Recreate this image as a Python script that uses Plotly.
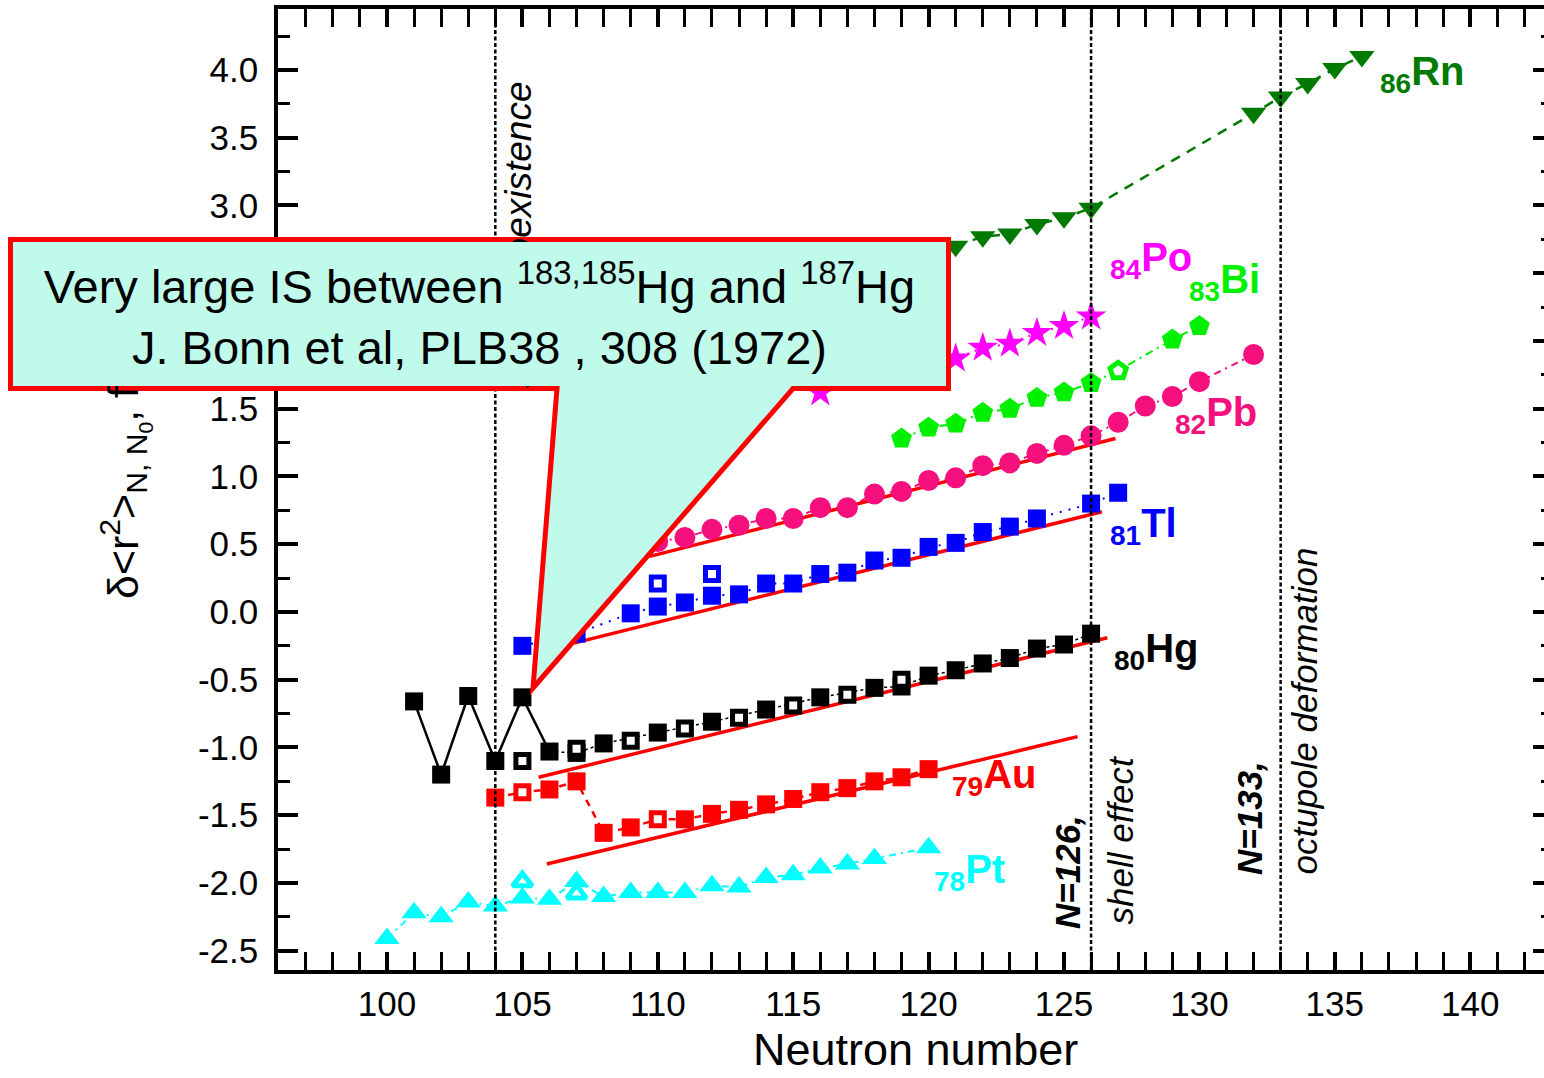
import plotly.graph_objects as go

# ---------------- data: delta<r^2> (fm^2) versus neutron number ----------------
# 80Hg
hg_n = [101, 102, 103, 104, 105, 106, 107, 108, 110, 112, 114, 116, 118, 119, 120, 121, 122, 123, 124, 125, 126]
hg_r2 = [-0.66, -1.20, -0.62, -1.10, -0.63, -1.03, -1.04, -0.97, -0.89, -0.81, -0.72, -0.63, -0.56, -0.55,
         -0.47, -0.43, -0.38, -0.34, -0.27, -0.24, -0.16]
hg_open_n = [105, 107, 109, 111, 113, 115, 117, 119]
hg_open_r2 = [-1.10, -1.01, -0.95, -0.86, -0.78, -0.69, -0.61, -0.50]

# 79Au
au_n = [104, 106, 107, 108, 109, 111, 112, 113, 114, 115, 116, 117, 118, 119, 120]
au_r2 = [-1.37, -1.31, -1.25, -1.63, -1.59, -1.53, -1.49, -1.46, -1.42, -1.38, -1.33, -1.30, -1.25, -1.22, -1.16]
au_open_n = [105, 110]
au_open_r2 = [-1.33, -1.53]

# 78Pt
pt_n = [100, 101, 102, 103, 104, 105, 106, 107, 108, 109, 110, 111, 112, 113, 114, 115, 116, 117, 118, 120]
pt_r2 = [-2.41, -2.22, -2.25, -2.14, -2.17, -2.11, -2.12, -1.99, -2.10, -2.07, -2.07, -2.07, -2.02, -2.03,
         -1.96, -1.94, -1.89, -1.86, -1.82, -1.74]
pt_open_n = [105, 107]
pt_open_r2 = [-1.99, -2.08]

# 81Tl
tl_n = [105, 107, 109, 110, 111, 112, 113, 114, 115, 116, 117, 118, 119, 120, 121, 122, 123, 124, 126, 127]
tl_r2 = [-0.25, -0.16, -0.01, 0.04, 0.07, 0.12, 0.13, 0.21, 0.21, 0.28, 0.29, 0.38, 0.40, 0.48, 0.51,
         0.59, 0.63, 0.69, 0.80, 0.88]
tl_open_n = [110, 112]
tl_open_r2 = [0.21, 0.28]

# 82Pb
pb_n = [110, 111, 112, 113, 114, 115, 116, 117, 118, 119, 120, 121, 122, 123, 124, 125, 126, 127, 128, 129, 130, 132]
pb_r2 = [0.52, 0.55, 0.61, 0.64, 0.69, 0.69, 0.77, 0.77, 0.87, 0.89, 0.97, 0.99, 1.08, 1.10, 1.17, 1.23,
         1.30, 1.40, 1.52, 1.59, 1.70, 1.90]

# 83Bi
bi_n = [119, 120, 121, 122, 123, 124, 125, 126, 129, 130]
bi_r2 = [1.28, 1.36, 1.39, 1.47, 1.50, 1.58, 1.62, 1.69, 2.01, 2.11]
bi_open_n = [127]
bi_open_r2 = [1.78]

# 84Po
po_n = [116, 121, 122, 123, 124, 125, 126]
po_r2 = [1.62, 1.87, 1.95, 1.98, 2.06, 2.11, 2.18]

# 86Rn
rn_n = [121, 122, 123, 124, 125, 126, 132, 133, 134, 135, 136]
rn_r2 = [2.70, 2.77, 2.79, 2.86, 2.91, 2.98, 3.68, 3.80, 3.90, 4.01, 4.10]

# straight-line systematics (start/end points)
trend_pb = ([109.7, 126.9], [0.41, 1.28])
trend_tl = ([106.9, 126.4], [-0.23, 0.74])
trend_hg = ([105.6, 126.6], [-1.22, -0.19])
trend_au = ([105.9, 125.5], [-1.86, -0.92])

# neutron numbers marked with vertical lines
n_marks = [104, 126, 133]

# axis ticks (the 2.0 / 2.5 labels sit under the note box, so the left axis skips them)
x_ticks = [100, 105, 110, 115, 120, 125, 130, 135, 140]
y_ticks = [-2.5, -2.0, -1.5, -1.0, -0.5, 0.0, 0.5, 1.0, 1.5, 3.0, 3.5, 4.0]
y_ticktext = ["-2.5", "-2.0", "-1.5", "-1.0", "-0.5", "0.0", "0.5", "1.0", "1.5", "3.0", "3.5", "4.0"]
y_ticks_right = [-2.5, -2.0, -1.5, -1.0, -0.5, 0.0, 0.5, 1.0, 1.5, 2.0, 2.5, 3.0, 3.5, 4.0]

# colours
C_HG, C_AU, C_PT, C_TL = "#000000", "#FF0000", "#00FFFF", "#0000FF"
C_PB, C_BI, C_PO, C_RN = "#F5107E", "#00F000", "#FF00FF", "#007A00"
C_NOTE = "#BFFAEB"

FONT = "Liberation Sans, Arial, sans-serif"

# ---------------- page geometry ----------------
W, H = 1544, 1078
ML, MR, MT, MB = 278, 0, 9, 108
PW, PH = W - ML - MR, H - MT - MB


def px_x(px):
    return (px - ML) / PW


def px_y(py):
    return (H - MB - py) / PH


fig = go.Figure()


def merged(xa, ya, xb, yb):
    pts = sorted(zip(list(xa) + list(xb), list(ya) + list(yb)))
    return [p[0] for p in pts], [p[1] for p in pts]


def add_line(xs, ys, color, dash, width=2.0):
    fig.add_trace(go.Scatter(x=xs, y=ys, mode="lines", hoverinfo="skip",
                             line=dict(color=color, dash=dash, width=width)))


def add_markers(xs, ys, color, symbol, size, hollow=False):
    if hollow:
        mk = dict(symbol=symbol, size=size - 5, color="white", line=dict(color=color, width=5))
    else:
        mk = dict(symbol=symbol, size=size, color=color, line=dict(width=0))
    fig.add_trace(go.Scatter(x=xs, y=ys, mode="markers", marker=mk, hoverinfo="skip"))


# connecting lines
add_line(hg_n[:6], hg_r2[:6], C_HG, "solid", 2.5)
add_line(hg_n[5:], hg_r2[5:], C_HG, "dot", 1.5)
x, y = merged(au_n, au_r2, au_open_n, au_open_r2)
add_line(x, y, C_AU, "7px,6px", 2.5)
add_line(pt_n, pt_r2, C_PT, "7px,5px,2px,5px", 2.0)
add_line(tl_n, tl_r2, C_TL, "2px,7px", 2.0)
add_line(pb_n, pb_r2, C_PB, "7px,5px,2px,5px", 2.0)
x, y = merged(bi_n, bi_r2, bi_open_n, bi_open_r2)
add_line(x, y, C_BI, "8px,5px,2px,5px", 2.0)
add_line(po_n, po_r2, C_PO, "2px,6px", 2.0)
add_line(rn_n, rn_r2, C_RN, "10px,8px", 2.5)

# systematics
for tx, ty in (trend_pb, trend_tl, trend_hg, trend_au):
    add_line(tx, ty, "#FF0000", "solid", 3.5)

# symbols
add_markers(pt_n, pt_r2, C_PT, "triangle-up", 22)
add_markers(pt_open_n, pt_open_r2, C_PT, "triangle-up", 22, hollow=True)
add_markers(au_n, au_r2, C_AU, "square", 18)
add_markers(au_open_n, au_open_r2, C_AU, "square", 18, hollow=True)
add_markers(hg_n, hg_r2, C_HG, "square", 18)
add_markers(hg_open_n, hg_open_r2, C_HG, "square", 18, hollow=True)
add_markers(tl_n, tl_r2, C_TL, "square", 18)
add_markers(tl_open_n, tl_open_r2, C_TL, "square", 18, hollow=True)
add_markers(pb_n, pb_r2, C_PB, "circle", 21)
add_markers(bi_n, bi_r2, C_BI, "pentagon", 22)
add_markers(bi_open_n, bi_open_r2, C_BI, "pentagon", 22, hollow=True)
add_markers(po_n, po_r2, C_PO, "star", 23)
add_markers(rn_n, rn_r2, C_RN, "triangle-down", 22)

# helper trace so the right-hand tick axis is drawn
fig.add_trace(go.Scatter(x=[None], y=[None], yaxis="y2", mode="markers", hoverinfo="skip"))

# vertical guide lines
for n in n_marks:
    fig.add_shape(type="line", xref="x", yref="paper", x0=n, x1=n, y0=0, y1=1,
                  line=dict(color="black", width=2.5, dash="4px,2.5px"), layer="above")

# callout outline (box with pointer)
outline = [(10.5, 239.5), (948.5, 239.5), (948.5, 388.5), (793, 388.5), (533, 688),
           (557, 388.5), (10.5, 388.5)]
path = "M " + " L ".join(f"{px_x(a):.5f},{px_y(b):.5f}" for a, b in outline) + " Z"
fig.add_shape(type="path", xref="paper", yref="paper", path=path, fillcolor=C_NOTE,
              line=dict(color="#FF0000", width=5), layer="above")

ann = []


def text(px, py, s, size, color="black", angle=0, xa="center", ya="middle", bold=False, italic=False):
    if italic:
        s = f"<i>{s}</i>"
    if bold:
        s = f"<b>{s}</b>"
    ann.append(dict(x=px_x(px), y=px_y(py), xref="paper", yref="paper", text=s, showarrow=False,
                    textangle=angle, xanchor=xa, yanchor=ya,
                    font=dict(family=FONT, size=size, color=color)))


# axis titles
text(915, 1077, "Neutron number", 45, ya="bottom")
text(125, 601, "δ&lt;r<sup>2</sup>&gt;<sub>N, N<sub>0</sub></sub>, fm<sup>2</sup>", 43, angle=-90, ya="bottom")

# vertical-line notes
text(518, 80, "shape coexistence", 37, angle=-90, ya="top", italic=True)
text(1067, 931, "N=126,", 35, angle=-90, ya="bottom", bold=True, italic=True)
text(1120, 927, "shell effect", 35, angle=-90, ya="bottom", italic=True)
text(1249, 877, "N=133,", 35, angle=-90, ya="bottom", bold=True, italic=True)
text(1304, 877, "octupole deformation", 35, angle=-90, ya="bottom", italic=True)

# element labels
for px, py, lab, col in [(1378, 74, "<sub>86</sub>Rn", C_RN), (1108, 260, "<sub>84</sub>Po", C_PO),
                         (1187, 282, "<sub>83</sub>Bi", C_BI), (1173, 415, "<sub>82</sub>Pb", C_PB),
                         (1108, 526, "<sub>81</sub>Tl", C_TL), (1112, 651, "<sub>80</sub>Hg", C_HG),
                         (950, 777, "<sub>79</sub>Au", C_AU), (932, 872, "<sub>78</sub>Pt", C_PT)]:
    text(px, py, lab, 40, color=col, xa="left", bold=True)

# callout text (its background also hides what lies under the box)
ann.append(dict(x=px_x(479.5), y=px_y(314), xref="paper", yref="paper", showarrow=False,
                xanchor="center", yanchor="middle", width=933, height=144, align="center",
                bgcolor=C_NOTE, borderwidth=0, borderpad=0,
                text="Very large IS between <sup>183,185</sup>Hg and <sup>187</sup>Hg<br>"
                     "J. Bonn et al, PLB38 , 308 (1972)",
                font=dict(family=FONT, size=47, color="black")))

fig.update_layout(
    width=W, height=H, margin=dict(l=ML, r=MR, t=MT, b=MB, pad=0),
    paper_bgcolor="white", plot_bgcolor="white", showlegend=False, hovermode=False,
    font=dict(family=FONT, color="black"),
    annotations=ann,
    xaxis=dict(range=[95.975, 95.975 + PW / 27.08], tickvals=x_ticks, ticks="inside", ticklen=18,
               tickwidth=3.5, tickcolor="black", showline=True, linewidth=3.5, linecolor="black",
               mirror="allticks", showgrid=False, zeroline=False,
               tickfont=dict(size=35, family=FONT), ticklabelstandoff=0,
               minor=dict(dtick=1, tick0=100, ticks="inside", ticklen=10, tickwidth=3, tickcolor="black")),
    yaxis=dict(range=[4.45 - PH / 135.5, 4.45], tickvals=y_ticks, ticktext=y_ticktext, ticks="inside",
               ticklen=20, tickwidth=3.5, tickcolor="black", showline=True, linewidth=3.5,
               linecolor="black", mirror=False, showgrid=False, zeroline=False,
               tickfont=dict(size=35, family=FONT), ticklabelstandoff=9,
               minor=dict(dtick=0.25, tick0=0, ticks="inside", ticklen=12, tickwidth=3, tickcolor="black")),
    yaxis2=dict(range=[4.45 - PH / 135.5, 4.45], overlaying="y", side="right", tickvals=y_ticks_right,
                showticklabels=False, ticks="inside", ticklen=11, tickwidth=3.5, tickcolor="black",
                showline=False, showgrid=False, zeroline=False,
                minor=dict(dtick=0.25, tick0=0, ticks="inside", ticklen=3, tickwidth=3, tickcolor="black")),
)

fig.write_html("out.html")
